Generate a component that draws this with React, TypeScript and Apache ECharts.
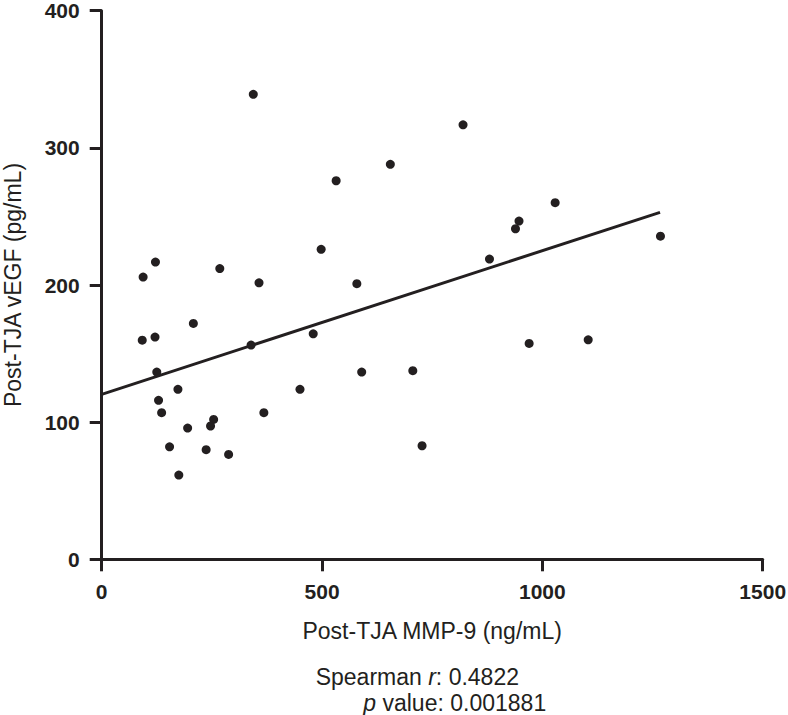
import React, { useEffect, useRef } from "react";
import * as echarts from "echarts";

const mmp9: number[] = [
  344, 655, 532, 498, 579, 357, 268, 122, 94, 208,
  820, 1029, 947, 939, 880, 1268,
  92, 121, 125, 339, 480, 590, 173, 450, 129, 136, 368, 254, 247, 195, 154, 237, 288, 175,
  706, 727, 970, 1104,
];
const vegf: number[] = [
  339, 288, 276, 226, 201, 201.6, 212, 216.7, 205.8, 172,
  316.8, 260, 246.6, 241, 218.9, 235.6,
  159.8, 162, 136.5, 156.2, 164.4, 136.5, 123.9, 123.9, 115.9, 106.9, 106.9, 102, 97.2, 95.7, 82, 79.9, 76.5, 61.4,
  137.5, 82.8, 157.4, 160,
];
const fitX: number[] = [0, 1267];
const fitY: number[] = [120.3, 253];
const xTicks = { min: 0, max: 1500, interval: 500 };
const yTicks = { min: 0, max: 400, interval: 100 };
const xTitle = "Post-TJA MMP-9 (ng/mL)";
const yTitle = "Post-TJA vEGF (pg/mL)";
const statR = "0.4822";
const statP = "0.001881";

const INK = "#231f20";
const FONT = "'Liberation Sans', Arial, Helvetica, sans-serif";

export default function App() {
  const ref = useRef<HTMLDivElement>(null);
  useEffect(() => {
    document.body.style.margin = "0";
    const chart = echarts.init(ref.current!, null, { renderer: "svg" });
    const points = mmp9.map((x, i) => [x, vegf[i]]);
    const axisCommon = {
      axisLine: { show: true, onZero: false, lineStyle: { color: INK, width: 3 } },
      axisTick: { show: true, inside: false, length: 12, lineStyle: { color: INK, width: 3 } },
      splitLine: { show: false },
      nameTextStyle: { color: INK, fontSize: 23, lineHeight: 22, fontFamily: FONT },
    };
    const labelStyle = {
      color: INK,
      fontSize: 21,
      lineHeight: 20,
      fontWeight: "bold",
      fontFamily: FONT,
      formatter: (v: number) => String(v),
    };
    chart.setOption({
      animation: false,
      backgroundColor: "#ffffff",
      grid: {
        left: 101.7,
        right: 25.3,
        top: 10.7,
        bottom: 155.7,
        containLabel: false,
        outerBoundsMode: "none",
      },
      xAxis: {
        type: "value",
        ...xTicks,
        name: xTitle,
        nameLocation: "middle",
        nameGap: 61,
        ...axisCommon,
        axisLabel: { ...labelStyle, margin: 22 },
      },
      yAxis: {
        type: "value",
        ...yTicks,
        name: yTitle,
        nameLocation: "middle",
        nameGap: 78,
        ...axisCommon,
        axisLabel: { ...labelStyle, margin: 22 },
      },
      series: [
        {
          type: "line",
          data: fitX.map((x, i) => [x, fitY[i]]),
          symbol: "none",
          lineStyle: { color: INK, width: 3 },
          z: 2,
        },
        {
          type: "scatter",
          data: points,
          symbol: "circle",
          symbolSize: 9,
          itemStyle: { color: INK, opacity: 1 },
          z: 3,
        },
      ],
      graphic: [
        {
          type: "text",
          left: 315.7,
          top: 665,
          style: {
            text: "Spearman {i|r}: " + statR,
            fontSize: 23,
            fontFamily: FONT,
            fill: INK,
            rich: { i: { fontStyle: "italic", fontSize: 23, fontFamily: FONT, fill: INK } },
          },
        },
        {
          type: "text",
          left: 363.3,
          top: 691,
          style: {
            text: "{i|p} value: " + statP,
            fontSize: 23,
            fontFamily: FONT,
            fill: INK,
            rich: { i: { fontStyle: "italic", fontSize: 23, fontFamily: FONT, fill: INK } },
          },
        },
      ],
    });
    return () => chart.dispose();
  }, []);
  return <div ref={ref} style={{ width: 788, height: 715 }} />;
}
